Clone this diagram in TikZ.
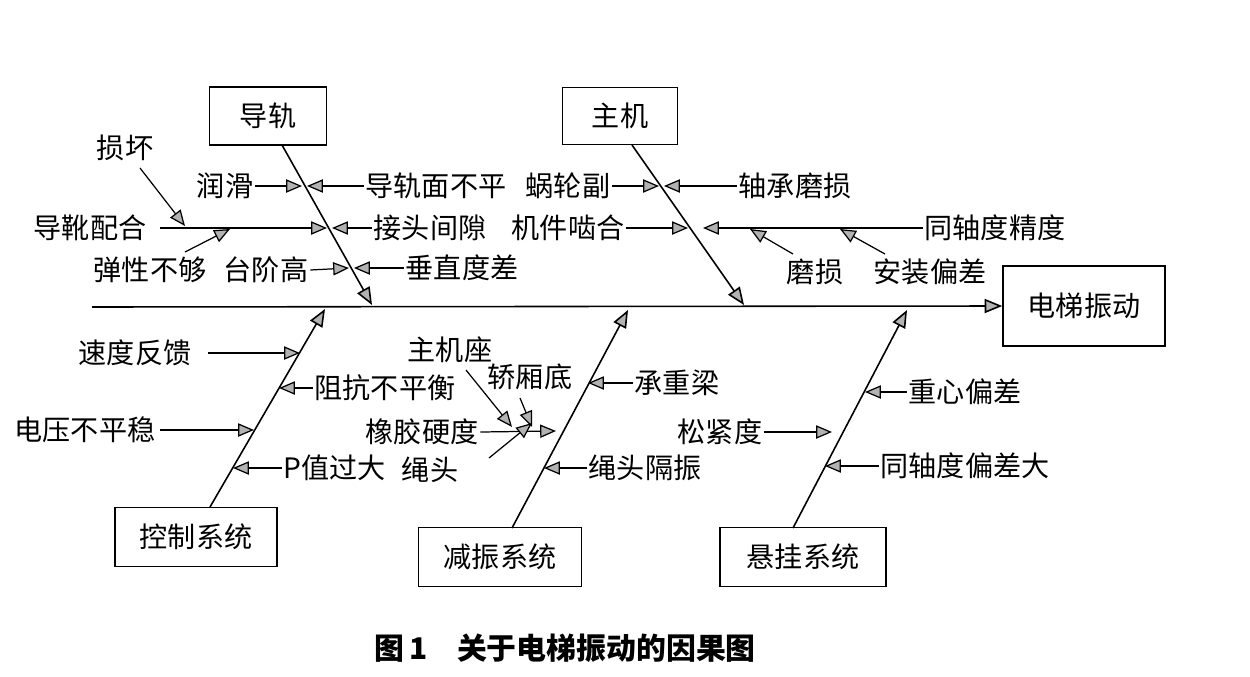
\documentclass[tikz,border=0pt]{standalone}
\usepackage{fontspec}
\setmainfont{Noto Sans CJK SC}
\usetikzlibrary{arrows.meta}
\begin{document}
\begin{tikzpicture}[x=0.02cm,y=-0.02cm,
  box/.style={draw,line width=0.9pt,inner sep=0pt,font=\fontsize{16}{16}\selectfont},
  lbl/.style={font=\fontsize{16}{16}\selectfont,inner sep=1pt},
  ar/.style={line width=0.7pt,-{Triangle[length=9pt,width=7.5pt,fill=gray!60]}},
  bone/.style={line width=0.9pt,-{Triangle[length=10pt,width=8pt,fill=gray!60]}}]
\useasboundingbox (0,0) rectangle (1250,676);
% boxes
\node[box,minimum width=2.34cm,minimum height=1.16cm] (gd) at (268,116) {导轨};
\node[box,minimum width=2.3cm,minimum height=1.14cm] (zj) at (620,116) {主机};
\node[box,minimum width=3.24cm,minimum height=1.6cm] (dt) at (1084,306) {电梯振动};
\node[box,minimum width=3.24cm,minimum height=1.18cm] (kz) at (196,537) {控制系统};
\node[box,minimum width=3.26cm,minimum height=1.18cm] (jz) at (500,557) {减振系统};
\node[box,minimum width=3.32cm,minimum height=1.18cm] (xg) at (803,557) {悬挂系统};
% spine
\coordinate (s0) at (92,307);
\draw[bone] (s0) -- (dt.west);
% bones
\coordinate (b1s) at (282,145); \coordinate (b1e) at (372,305);
\coordinate (b2s) at (632,145); \coordinate (b2e) at (744,305);
\coordinate (b3s) at (210,507); \coordinate (b3e) at (325,309);
\coordinate (b4s) at (512,528); \coordinate (b4e) at (628,310);
\coordinate (b5s) at (793,528); \coordinate (b5e) at (907,310);
\draw[bone] (b1s) -- (b1e);
\draw[bone] (b2s) -- (b2e);
\draw[bone] (b3s) -- (b3e);
\draw[bone] (b4s) -- (b4e);
\draw[bone] (b5s) -- (b5e);
% rail causes
\node[lbl] (rh) at (225,186) {润滑}; \coordinate (rh1) at (302,186); \draw[ar] (rh.east) -- (rh1);
\node[lbl] (dgm) at (436,186) {导轨面不平}; \coordinate (dgm1) at (307,186); \draw[ar] (dgm.west) -- (dgm1);
\node[lbl] (dx) at (90,228) {导靴配合}; \coordinate (dx1) at (327,228); \draw[ar] (160,228) -- (dx1);
\node[lbl] (jt) at (430,228) {接头间隙}; \coordinate (jt1) at (332,228); \draw[ar] (jt.west) -- (jt1);
\node[lbl] (sh) at (125,148) {损坏}; \coordinate (sh1) at (185,226); \draw[ar] (140,168) -- (sh1);
\node[lbl] (tx) at (150,270) {弹性不够}; \coordinate (tx1) at (230,229); \draw[ar] (185,252) -- (tx1);
\node[lbl] (tj) at (266,270) {台阶高}; \coordinate (tj1) at (349,268); \draw[ar] (tj.east) -- (tj1);
\node[lbl] (cz) at (462,268) {垂直度差}; \coordinate (cz1) at (354,268); \draw[ar] (cz.west) -- (cz1);
% main machine causes
\node[lbl] (wl) at (568,186) {蜗轮副}; \coordinate (wl1) at (659,186); \draw[ar] (wl.east) -- (wl1);
\node[lbl] (zc) at (795,186) {轴承磨损}; \coordinate (zc1) at (664,186); \draw[ar] (zc.west) -- (zc1);
\node[lbl] (jj) at (568,228) {机件啮合}; \coordinate (jj1) at (688,228); \draw[ar] (jj.east) -- (jj1);
\node[lbl] (tz) at (995,228) {同轴度精度}; \coordinate (tz1) at (703,228); \draw[ar] (tz.west) -- (tz1);
\node[lbl] (ms) at (815,272) {磨损}; \coordinate (ms1) at (750,229); \draw[ar] (793,254) -- (ms1);
\node[lbl] (az) at (930,272) {安装偏差}; \coordinate (az1) at (840,229); \draw[ar] (885,254) -- (az1);
% control causes
\node[lbl] (sd) at (135,353) {速度反馈}; \coordinate (sd1) at (300,353); \draw[ar] (208,353) -- (sd1);
\node[lbl] (zk) at (385,388) {阻抗不平衡}; \coordinate (zk1) at (279,388); \draw[ar] (zk.west) -- (zk1);
\node[lbl] (dy) at (85,430) {电压不平稳}; \coordinate (dy1) at (254,430); \draw[ar] (160,430) -- (dy1);
\node[lbl] (pz) at (335,468) {P值过大}; \coordinate (pz1) at (233,468); \draw[ar] (pz.west) -- (pz1);
% damping causes
\node[lbl] (cl) at (677,383) {承重梁}; \coordinate (cl1) at (588,383); \draw[ar] (cl.west) -- (cl1);
\node[lbl] (stg) at (645,468) {绳头隔振}; \coordinate (stg1) at (544,468); \draw[ar] (stg.west) -- (stg1);
\node[lbl] (zjz) at (450,350) {主机座}; \coordinate (zjz1) at (512,427); \draw[ar] (466,370) -- (zjz1);
\node[lbl] (jx) at (530,377) {轿厢底}; \coordinate (jx1) at (532,427); \draw[ar] (520,398) -- (jx1);
\node[lbl] (xj) at (422,432) {橡胶硬度}; \coordinate (xj1) at (556,431); \draw[ar] (xj.east) -- (xj1);
\node[lbl] (st) at (430,470) {绳头}; \coordinate (st1) at (532,423); \draw[ar] (489,458) -- (st1);
% suspension causes
\node[lbl] (zx) at (965,392) {重心偏差}; \coordinate (zx1) at (865,392); \draw[ar] (zx.west) -- (zx1);
\node[lbl] (sj) at (720,432) {松紧度}; \coordinate (sj1) at (832,432); \draw[ar] (sj.east) -- (sj1);
\node[lbl] (tp) at (965,466) {同轴度偏差大}; \coordinate (tp1) at (825,466); \draw[ar] (tp.west) -- (tp1);
% caption
\node[font=\fontsize{17}{18}\selectfont\bfseries] (cap) at (565,648) {图\,1\quad 关于电梯振动的因果图};
\end{tikzpicture}
\end{document}
